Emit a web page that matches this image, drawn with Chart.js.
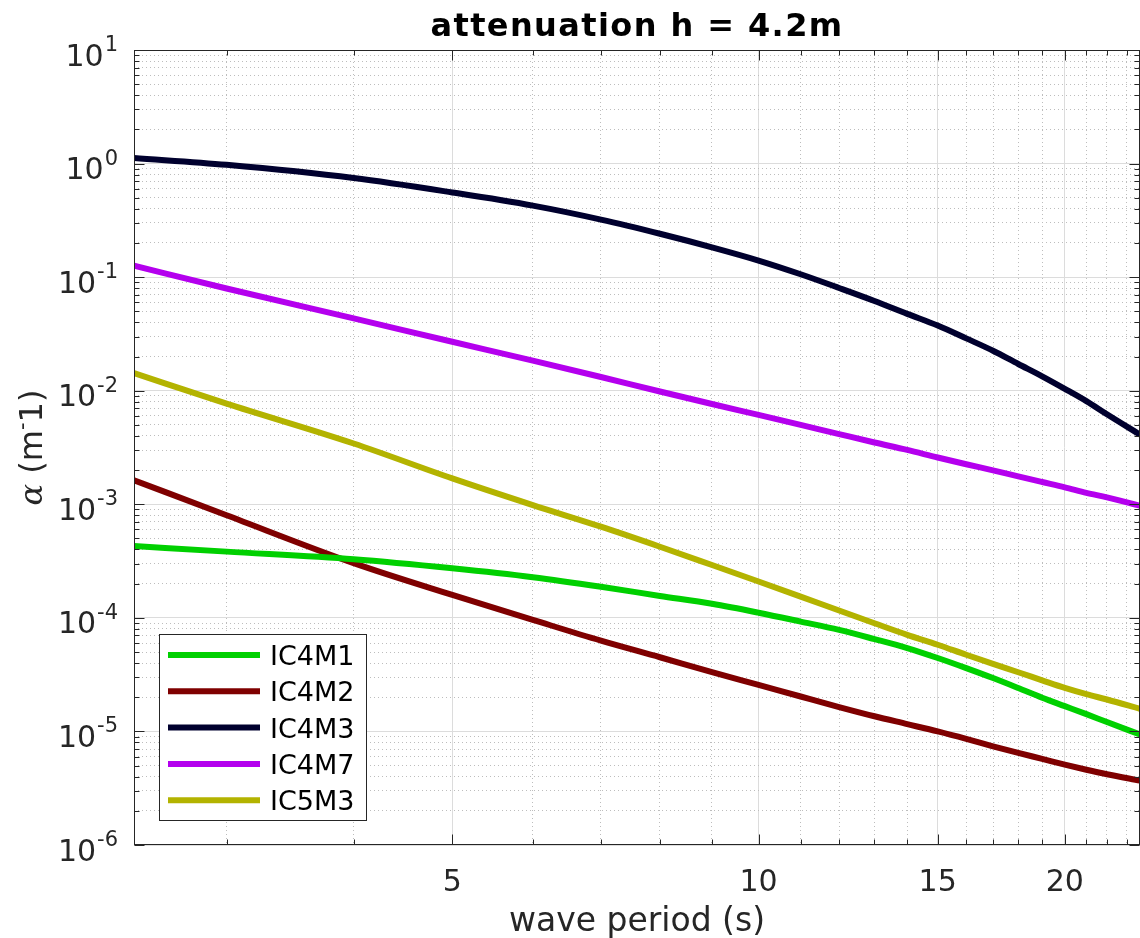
<!DOCTYPE html>
<html>
<head>
<meta charset="utf-8">
<script src="https://cdn.jsdelivr.net/npm/chart.js@4.4.1/dist/chart.umd.min.js"></script>
<style>
  html, body { margin: 0; padding: 0; background: #fff; }
</style>
</head>
<body>
<canvas id="myChart" width="1140" height="938"></canvas>
<script>
// wave period (s)
const periods = [2.433, 3, 4, 5, 6, 7, 8, 9, 10, 11, 12, 13, 14, 15, 16, 17, 18, 19, 20, 21, 22, 23.71];

const seriesNames = ['IC4M1', 'IC4M2', 'IC4M3', 'IC4M7', 'IC5M3'];
const seriesColors = ['#00d000', '#7f0000', '#00002e', '#b400ee', '#b3b300'];

// attenuation alpha (m^-1), one value per period
const ic4m1 = [4.29e-4, 3.83e-4, 3.28e-4, 2.73e-4, 2.28e-4, 1.88e-4, 1.56e-4, 1.33e-4, 1.11e-4, 9.27e-5, 7.83e-5,
  6.5e-5, 5.42e-5, 4.43e-5, 3.61e-5, 2.95e-5, 2.41e-5, 1.98e-5, 1.67e-5, 1.42e-5, 1.21e-5, 9.4e-6];
const ic4m2 = [1.63e-3, 8.0e-4, 3.03e-4, 1.59e-4, 9.6e-5, 6.3e-5, 4.5e-5, 3.33e-5, 2.57e-5, 2.03e-5, 1.64e-5,
  1.36e-5, 1.16e-5, 1.0e-5, 8.6e-6, 7.4e-6, 6.47e-6, 5.73e-6, 5.1e-6, 4.6e-6, 4.2e-6, 3.69e-6];
const ic4m3 = [1.12, 0.975, 0.746, 0.557, 0.426, 0.321, 0.241, 0.183, 0.140, 0.106, 0.0803,
  0.0617, 0.0475, 0.0375, 0.0289, 0.0225, 0.0172, 0.0134, 0.0104, 0.0081, 0.0062, 0.0041];
const ic4m7 = [0.126, 0.0794, 0.0433, 0.0270, 0.0184, 0.0132, 0.00984, 0.00764, 0.00612, 0.0050, 0.00415,
  0.0035, 0.00301, 0.00258, 0.00225, 0.00199, 0.00176, 0.00157, 0.00141, 0.00126, 0.00115, 0.00097];
const ic5m3 = [0.0143, 0.0077, 0.00343, 0.00169, 0.000984, 0.000635, 0.000423, 0.000292, 0.000209, 0.000154, 0.000116,
  8.97e-5, 7.09e-5, 5.8e-5, 4.73e-5, 3.93e-5, 3.32e-5, 2.82e-5, 2.42e-5, 2.13e-5, 1.91e-5, 1.58e-5];
const seriesValues = [ic4m1, ic4m2, ic4m3, ic4m7, ic5m3];

// ticks
const xTickLabels = [5, 10, 15, 20];
const xMinorTicks = [3, 4, 6, 7, 8, 9, 11, 12, 13, 14, 16, 17, 18, 19, 21, 22, 23];
const yDecades = [-6, -5, -4, -3, -2, -1, 0, 1];

const titleText = 'attenuation h = 4.2m';
const xTitle = 'wave period (s)';

const axisColor = '#262626';
const FONT = 'DejaVu Sans';

const xGridValues = [...xMinorTicks, ...xTickLabels].sort((a, b) => a - b);
const yGridValues = [];
yDecades.forEach(e => {
  for (let m = 1; m <= 9; m++) {
    if (e === yDecades[yDecades.length - 1] && m > 1) break;
    yGridValues.push(m * Math.pow(10, e));
  }
});

const isDecade = v => Math.abs(Math.log10(v) - Math.round(Math.log10(v))) < 1e-9;
const isMajorX = v => xTickLabels.includes(v);

// matlab style box, inward ticks, legend and labels
const matlabAxes = {
  id: 'matlabAxes',
  afterDatasetsDraw(chart) {
    const { ctx, chartArea: a, scales: { x, y } } = chart;
    const L = Math.round(a.left) + 0.5, R = Math.round(a.right) - 0.5;
    const T = Math.round(a.top) + 0.5, B = Math.round(a.bottom) - 0.5;
    ctx.save();
    ctx.strokeStyle = axisColor;
    ctx.lineWidth = 1;
    ctx.beginPath();
    y.ticks.forEach(t => {
      const py = Math.round(y.getPixelForValue(t.value)) + 0.5;
      const len = isDecade(t.value) ? 10 : 5;
      ctx.moveTo(L, py); ctx.lineTo(L + len, py);
      ctx.moveTo(R, py); ctx.lineTo(R - len, py);
    });
    x.ticks.forEach(t => {
      const px = Math.round(x.getPixelForValue(t.value)) + 0.5;
      const len = isMajorX(t.value) ? 10 : 5;
      ctx.moveTo(px, B); ctx.lineTo(px, B - len);
      ctx.moveTo(px, T); ctx.lineTo(px, T + len);
    });
    ctx.stroke();
    ctx.strokeRect(L, T, R - L, B - T);

    // legend
    const lx = 159.5, ly = 634.5, lw = 207, lh = 186;
    ctx.fillStyle = '#fff';
    ctx.fillRect(lx, ly, lw, lh);
    ctx.strokeStyle = axisColor;
    ctx.strokeRect(lx, ly, lw, lh);
    ctx.font = `27px "${FONT}"`;
    ctx.textAlign = 'left';
    ctx.textBaseline = 'alphabetic';
    chart.data.datasets.forEach((ds, i) => {
      const ry = 655 + i * 36.3;
      ctx.strokeStyle = ds.borderColor;
      ctx.lineWidth = 6;
      ctx.beginPath();
      ctx.moveTo(168, ry); ctx.lineTo(260, ry);
      ctx.stroke();
      ctx.fillStyle = '#000';
      ctx.fillText(ds.label, 270, ry + 10);
    });
    ctx.restore();
  },
  afterDraw(chart) {
    const { ctx, chartArea: a, scales: { y } } = chart;
    ctx.save();
    ctx.fillStyle = axisColor;
    // y tick labels 10^n
    yDecades.forEach(e => {
      const py = y.getPixelForValue(Math.pow(10, e));
      ctx.textAlign = 'right';
      ctx.textBaseline = 'alphabetic';
      ctx.font = `21px "${FONT}"`;
      const exp = String(e);
      const w = ctx.measureText(exp).width;
      ctx.fillText(exp, 118, py + 1);
      ctx.font = `30px "${FONT}"`;
      ctx.fillText('10', 118 - w - 1, py + 15.5);
    });

    // x axis title
    const cx = (a.left + a.right) / 2;
    ctx.font = `33px "${FONT}"`;
    ctx.textAlign = 'center';
    ctx.fillText(xTitle, cx, 931);

    // y axis title: alpha (m^-1)
    const cy = (a.top + a.bottom) / 2;
    ctx.save();
    ctx.translate(42, cy);
    ctx.rotate(-Math.PI / 2);
    const parts = [
      { t: '\u03b1', f: `italic 32px "DejaVu Serif"`, dy: 0 },
      { t: ' (m', f: `32px "${FONT}"`, dy: 0 },
      { t: '-', f: `21px "${FONT}"`, dy: -13 },
      { t: '1)', f: `32px "${FONT}"`, dy: 0 }
    ];
    let total = 0;
    parts.forEach(p => { ctx.font = p.f; p.w = ctx.measureText(p.t).width; total += p.w; });
    let px = -total / 2;
    ctx.textAlign = 'left';
    parts.forEach(p => { ctx.font = p.f; ctx.fillText(p.t, px, p.dy); px += p.w; });
    ctx.restore();

    // title
    ctx.fillStyle = '#000';
    ctx.font = `bold 32px "${FONT}"`;
    ctx.letterSpacing = '1.4px';
    ctx.textAlign = 'center';
    ctx.fillText(titleText, cx, 36);
    ctx.letterSpacing = '0px';
    ctx.restore();
  }
};

const ctx = document.getElementById('myChart').getContext('2d');
new Chart(ctx, {
  type: 'line',
  data: {
    datasets: seriesValues.map((vals, i) => ({
      label: seriesNames[i],
      data: periods.map((p, j) => ({ x: p, y: vals[j] })),
      borderColor: seriesColors[i],
      backgroundColor: seriesColors[i],
      borderWidth: 6,
      pointRadius: 0,
      fill: false,
      cubicInterpolationMode: 'monotone'
    }))
  },
  options: {
    responsive: false,
    animation: false,
    devicePixelRatio: 1,
    layout: { autoPadding: false, padding: { top: 50, right: 0, left: 0, bottom: 0 } },
    plugins: {
      legend: { display: false },
      title: { display: false },
      tooltip: { enabled: false }
    },
    scales: {
      x: {
        type: 'logarithmic',
        min: periods[0],
        max: periods[periods.length - 1],
        afterBuildTicks: s => { s.ticks = xGridValues.map(v => ({ value: v })); },
        afterFit: s => { s.height = 93; },
        ticks: {
          autoSkip: false,
          maxRotation: 0,
          padding: 8,
          color: axisColor,
          font: { family: FONT, size: 30 },
          callback: v => (isMajorX(v) ? String(v) : '')
        },
        grid: {
          drawTicks: true,
          tickLength: 12,
          tickColor: 'rgba(0,0,0,0)',
          lineWidth: 1,
          color: c => (c.tick && isMajorX(c.tick.value) ? '#dcdcdc' : '#bdbdbd')
        },
        border: {
          display: false,
          dash: c => (c.tick && isMajorX(c.tick.value) ? [] : [1, 3])
        }
      },
      y: {
        type: 'logarithmic',
        min: Math.pow(10, yDecades[0]),
        max: Math.pow(10, yDecades[yDecades.length - 1]),
        afterBuildTicks: s => { s.ticks = yGridValues.map(v => ({ value: v })); },
        afterFit: s => { s.width = 134; },
        ticks: { display: false },
        grid: {
          drawTicks: false,
          lineWidth: 1,
          color: c => (c.tick && isDecade(c.tick.value) ? '#dcdcdc' : '#bdbdbd')
        },
        border: {
          display: false,
          dash: c => (c.tick && isDecade(c.tick.value) ? [] : [1, 3])
        }
      }
    }
  },
  plugins: [matlabAxes]
});
</script>
</body>
</html>
